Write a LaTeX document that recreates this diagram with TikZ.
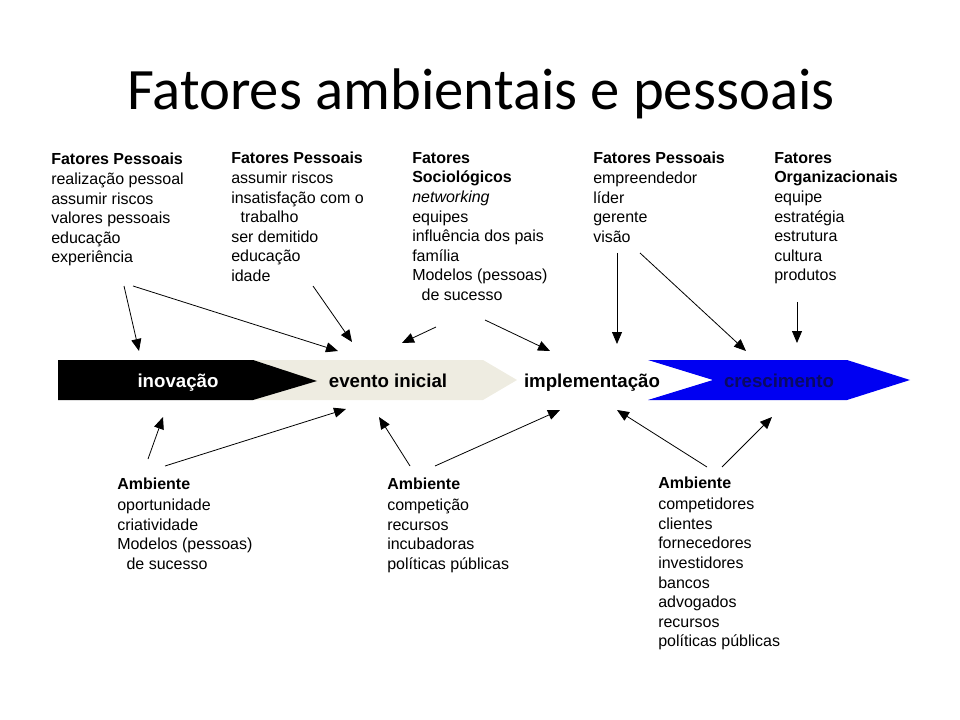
\documentclass[tikz,border=0pt]{standalone}
\usepackage{fontspec}
\setmainfont{Liberation Sans}
\newfontfamily\titlefont{Carlito}
\usetikzlibrary{arrows.meta}
\definecolor{bege}{HTML}{EEECE1}
\definecolor{azul}{HTML}{0000F2}
\definecolor{azulesc}{HTML}{0A0A64}
\tikzset{
  bloco/.style={anchor=north west, align=left, inner sep=0pt,
    font=\fontsize{12}{14.7}\selectfont},
  etapa/.style={anchor=base, inner sep=0pt, font=\fontsize{14}{17}\selectfont\bfseries},
  seta/.style={line width=0.6pt, -{Triangle[length=9pt,width=7.5pt]}}
}
\newcommand{\recuo}{\hspace*{7pt}}
\begin{document}
\begin{tikzpicture}[x=0.75pt,y=-0.75pt]
  \useasboundingbox (0,0) rectangle (960,720);
  \node[anchor=base, inner sep=0pt, font=\titlefont\fontsize{44}{50}\selectfont] (titulo) at (481,110) {Fatores ambientais e pessoais};

  % faixa das etapas
  \fill[bege] (253,360) -- (483,360) -- (517,380) -- (483,400) -- (253,400) -- cycle;
  \fill[black] (58,360) -- (253,360) -- (317,381) -- (253,400) -- (58,400) -- cycle;
  \fill[azul] (648,360) -- (847,360) -- (910,380) -- (847,400) -- (648,400) -- (713,380) -- cycle;
  \node[etapa, text=white] (inovacao) at (178,387) {inovação};
  \node[etapa] (evento) at (388,387) {evento inicial};
  \node[etapa] (implementacao) at (592,387) {implementação};
  \node[etapa, text=azulesc] (crescimento) at (779,387) {crescimento};

  % fatores de cima
  \node[bloco] (pessoais1) at (51,153) {\textbf{Fatores Pessoais}\\realização pessoal\\assumir riscos\\valores pessoais\\educação\\experiência};
  \node[bloco] (pessoais2) at (231,152) {\textbf{Fatores Pessoais}\\assumir riscos\\insatisfação com o\\\recuo trabalho\\ser demitido\\educação\\idade};
  \node[bloco] (sociologicos) at (412,152) {\textbf{Fatores}\\\textbf{Sociológicos}\\\textit{networking}\\equipes\\influência dos pais\\família\\Modelos (pessoas)\\\recuo de sucesso};
  \node[bloco] (pessoais3) at (593,152) {\textbf{Fatores Pessoais}\\empreendedor\\líder\\gerente\\visão};
  \node[bloco] (organizacionais) at (774,152) {\textbf{Fatores}\\\textbf{Organizacionais}\\equipe\\estratégia\\estrutura\\cultura\\produtos};

  % ambiente embaixo
  \node[bloco] (ambiente1) at (117,478) {\textbf{Ambiente}\\[1pt]oportunidade\\criatividade\\Modelos (pessoas)\\\recuo de sucesso};
  \node[bloco] (ambiente2) at (387,478) {\textbf{Ambiente}\\[1pt]competição\\recursos\\incubadoras\\políticas públicas};
  \node[bloco] (ambiente3) at (658,477) {\textbf{Ambiente}\\[1pt]competidores\\clientes\\fornecedores\\investidores\\bancos\\advogados\\recursos\\políticas públicas};

  % pontas das setas
  \coordinate (p1a) at (124,286);  \coordinate (inov1) at (139,351);
  \coordinate (p1b) at (133,286);  \coordinate (ev1) at (338,351);
  \coordinate (p2) at (313,286);   \coordinate (ev2) at (352,342);
  \coordinate (soc1) at (436,327); \coordinate (ev3) at (402,343);
  \coordinate (soc2) at (485,320); \coordinate (imp1) at (550,351);
  \coordinate (p3a) at (617,253);  \coordinate (imp2) at (617,344);
  \coordinate (p3b) at (640,253);  \coordinate (cr1) at (746,351);
  \coordinate (org) at (797,302);  \coordinate (cr2) at (797,343);
  \coordinate (a1a) at (148,459);  \coordinate (inov2) at (163,417);
  \coordinate (a1b) at (165,466);  \coordinate (ev4) at (346,409);
  \coordinate (a2a) at (410,466);  \coordinate (ev5) at (379,417);
  \coordinate (a2b) at (435,466);  \coordinate (imp3) at (560,410);
  \coordinate (a3a) at (707,467);  \coordinate (imp4) at (617,410);
  \coordinate (a3b) at (722,467);  \coordinate (cr3) at (772,417);

  \draw[seta] (p1a) -- (inov1);
  \draw[seta] (p1b) -- (ev1);
  \draw[seta] (p2) -- (ev2);
  \draw[seta] (soc1) -- (ev3);
  \draw[seta] (soc2) -- (imp1);
  \draw[seta] (p3a) -- (imp2);
  \draw[seta] (p3b) -- (cr1);
  \draw[seta] (org) -- (cr2);
  \draw[seta] (a1a) -- (inov2);
  \draw[seta] (a1b) -- (ev4);
  \draw[seta] (a2a) -- (ev5);
  \draw[seta] (a2b) -- (imp3);
  \draw[seta] (a3a) -- (imp4);
  \draw[seta] (a3b) -- (cr3);
\end{tikzpicture}
\end{document}
